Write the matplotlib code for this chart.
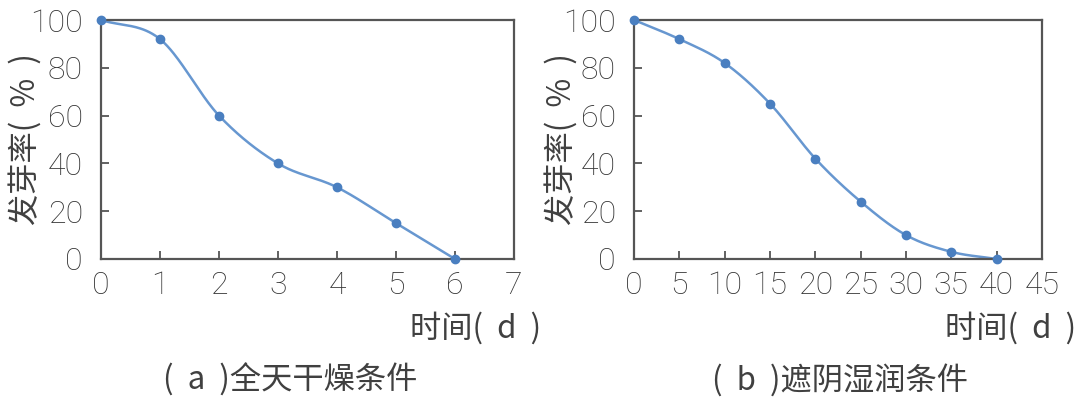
import numpy as np
import matplotlib
matplotlib.use("Agg")
import matplotlib.pyplot as plt

plt.rcParams['font.family'] = ['Noto Sans CJK SC', 'DejaVu Sans']

# panel (a): full sun, dry
days_a = [0, 1, 2, 3, 4, 5, 6]
rate_a = [100, 92, 60, 40, 30, 15, 0]
xticks_a = [0, 1, 2, 3, 4, 5, 6, 7]

# panel (b): shade, moist
days_b = [0, 5, 10, 15, 20, 25, 30, 35, 40]
rate_b = [100, 92, 82, 65, 42, 24, 10, 3, 0]
xticks_b = [0, 5, 10, 15, 20, 25, 30, 35, 40, 45]

yticks = [0, 20, 40, 60, 80, 100]
captions = ['(  a  )全天干燥条件', '(  b  )遮阴湿润条件']
ylab = '发芽率(  %  )'
xlab = '时间(  d  )'

line_c = '#6797d0'
dot_c = '#4a7fc0'
txt_c = '#404040'
num_c = '#333333'
frame_c = '#555555'


def smooth(x, y, n=40):
    # excel-like smoothed line (catmull-rom bezier)
    x = np.asarray(x, float)
    y = np.asarray(y, float)
    p = np.column_stack([x, y])
    m = len(p)
    tang = np.zeros_like(p)
    for i in range(m):
        a = p[max(i - 1, 0)]
        b = p[min(i + 1, m - 1)]
        tang[i] = (b - a) / 2 if 0 < i < m - 1 else (b - a)
    t = np.linspace(0, 1, n)[:, None]
    out = []
    for i in range(m - 1):
        p0 = p[i]
        p3 = p[i + 1]
        p1 = p0 + tang[i] / 3
        p2 = p3 - tang[i + 1] / 3
        seg = ((1 - t) ** 3) * p0 + 3 * ((1 - t) ** 2) * t * p1 + 3 * (1 - t) * t ** 2 * p2 + t ** 3 * p3
        out.append(seg)
    out = np.vstack(out)
    return out[:, 0], out[:, 1]


fig = plt.figure(figsize=(10.8, 4.03), dpi=100)
W, H = 1080, 403
ax_a = fig.add_axes([101 / W, 1 - 259 / H, 413 / W, 239 / H])
ax_b = fig.add_axes([634 / W, 1 - 259 / H, 408 / W, 239 / H])

panels = [(ax_a, days_a, rate_a, xticks_a, 7, -0.184),
          (ax_b, days_b, rate_b, xticks_b, 45, -0.179)]

for ax, xs, ys, xt, xmax, ylx in panels:
    sx, sy = smooth(xs, ys)
    ax.plot(sx, sy, color=line_c, lw=1.8, zorder=2, clip_on=False)
    ax.plot(xs, ys, 'o', color=dot_c, ms=6, zorder=3, clip_on=False)
    ax.set_xlim(0, xmax)
    ax.set_ylim(0, 100)
    ax.set_xticks(xt)
    ax.set_yticks(yticks)
    for s in ax.spines.values():
        s.set_color(frame_c)
        s.set_linewidth(1.6)
    ax.tick_params(direction='in', length=6, width=1.3, color=frame_c,
                   labelsize=23, labelcolor=num_c)
    ax.tick_params(axis='x', pad=9)
    ax.tick_params(axis='y', pad=13)
    for lab in ax.get_xticklabels() + ax.get_yticklabels():
        lab.set_family(['Roboto', 'DejaVu Sans'])
        lab.set_fontweight('light')
    ax.set_ylabel(ylab, fontsize=22.5, color=txt_c)
    ax.yaxis.label.set_va('center')
    ax.yaxis.set_label_coords(ylx, 0.5)

fig.text(541 / W, 1 - 328 / H, xlab, ha='right', va='center',
         fontsize=22.5, color=txt_c)
fig.text(1076 / W, 1 - 328 / H, xlab, ha='right', va='center',
         fontsize=22.5, color=txt_c)
fig.text(290 / W, 1 - 380 / H, captions[0], ha='center', va='center',
         fontsize=22.5, color=txt_c)
fig.text(840 / W, 1 - 380 / H, captions[1], ha='center', va='center',
         fontsize=22.5, color=txt_c)

fig.savefig('out.png', dpi=100)
